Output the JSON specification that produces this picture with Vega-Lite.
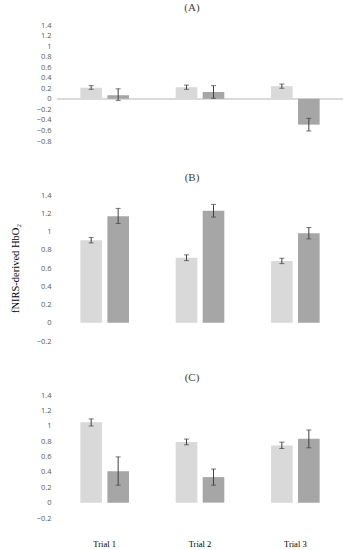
{
  "$schema": "https://vega.github.io/schema/vega-lite/v6.json",
  "padding": {"left": 10, "top": 2, "right": 0, "bottom": 0},
  "background": "white",
  "config": {
    "view": {"stroke": null},
    "title": {"font": "Liberation Serif", "fontSize": 11, "fontWeight": "normal", "color": "#404040", "offset": 8},
    "axisY": {"domain": false, "ticks": false, "grid": false, "labelFont": "Open Sans", "labelFontSize": 7.5, "labelColor": "#595959", "labelPadding": 6, "labelOverlap": false, "tickCount": 20, "format": "~g"},
    "concat": {"spacing": 27}
  },
  "data": {"values": [
    {"panel": "A", "trial": "Trial 1", "group": "Condition 1", "value": 0.21, "lo": 0.18, "hi": 0.25},
    {"panel": "A", "trial": "Trial 1", "group": "Condition 2", "value": 0.07, "lo": -0.03, "hi": 0.19},
    {"panel": "A", "trial": "Trial 2", "group": "Condition 1", "value": 0.22, "lo": 0.18, "hi": 0.26},
    {"panel": "A", "trial": "Trial 2", "group": "Condition 2", "value": 0.13, "lo": 0.01, "hi": 0.25},
    {"panel": "A", "trial": "Trial 3", "group": "Condition 1", "value": 0.24, "lo": 0.2, "hi": 0.28},
    {"panel": "A", "trial": "Trial 3", "group": "Condition 2", "value": -0.49, "lo": -0.61, "hi": -0.37},
    {"panel": "B", "trial": "Trial 1", "group": "Condition 1", "value": 0.905, "lo": 0.875, "hi": 0.935},
    {"panel": "B", "trial": "Trial 1", "group": "Condition 2", "value": 1.168, "lo": 1.088, "hi": 1.253},
    {"panel": "B", "trial": "Trial 2", "group": "Condition 1", "value": 0.711, "lo": 0.681, "hi": 0.744},
    {"panel": "B", "trial": "Trial 2", "group": "Condition 2", "value": 1.227, "lo": 1.158, "hi": 1.297},
    {"panel": "B", "trial": "Trial 3", "group": "Condition 1", "value": 0.678, "lo": 0.648, "hi": 0.707},
    {"panel": "B", "trial": "Trial 3", "group": "Condition 2", "value": 0.982, "lo": 0.919, "hi": 1.044},
    {"panel": "C", "trial": "Trial 1", "group": "Condition 1", "value": 1.045, "lo": 0.997, "hi": 1.089},
    {"panel": "C", "trial": "Trial 1", "group": "Condition 2", "value": 0.407, "lo": 0.227, "hi": 0.595},
    {"panel": "C", "trial": "Trial 2", "group": "Condition 1", "value": 0.787, "lo": 0.752, "hi": 0.827},
    {"panel": "C", "trial": "Trial 2", "group": "Condition 2", "value": 0.332, "lo": 0.227, "hi": 0.437},
    {"panel": "C", "trial": "Trial 3", "group": "Condition 1", "value": 0.744, "lo": 0.704, "hi": 0.787},
    {"panel": "C", "trial": "Trial 3", "group": "Condition 2", "value": 0.831, "lo": 0.713, "hi": 0.945}
  ]},
  "vconcat": [
    {
      "title": {"text": "(A)", "dx": -8},
      "width": 286, "height": 116,
      "transform": [{"filter": "datum.panel === 'A'"}],
      "encoding": {
        "x": {"field": "trial", "type": "nominal", "axis": null, "scale": {"paddingInner": 0, "paddingOuter": 0}},
        "xOffset": {"field": "group", "type": "nominal", "scale": {"paddingInner": 0.2, "paddingOuter": 0.865}}
      },
      "layer": [
        {"mark": {"type": "rule", "color": "#d9d9d9", "strokeWidth": 1}, "encoding": {"x": null, "xOffset": null, "y": {"datum": 0, "type": "quantitative"}}},
        {"mark": {"type": "bar", "strokeWidth": 0}, "encoding": {
          "y": {"field": "value", "type": "quantitative", "title": null, "scale": {"domain": [-0.8, 1.4], "nice": false}, "axis": {"values": [1.4, 1.2, 1, 0.8, 0.6, 0.4, 0.2, 0, -0.2, -0.4, -0.6, -0.8], "tickCount": 20, "labelOverlap": false}},
          "color": {"field": "group", "type": "nominal", "legend": null, "scale": {"range": ["#d9d9d9", "#a6a6a6"]}}
        }},
        {"mark": {"type": "rule", "color": "#404040", "strokeWidth": 1}, "encoding": {"y": {"field": "lo", "type": "quantitative"}, "y2": {"field": "hi"}}},
        {"mark": {"type": "tick", "color": "#404040", "size": 5, "thickness": 1}, "encoding": {"y": {"field": "lo", "type": "quantitative"}}},
        {"mark": {"type": "tick", "color": "#404040", "size": 5, "thickness": 1}, "encoding": {"y": {"field": "hi", "type": "quantitative"}}}
      ]
    },
    {
      "title": {"text": "(B)", "dx": -8},
      "width": 286, "height": 146,
      "transform": [{"filter": "datum.panel === 'B'"}],
      "encoding": {
        "x": {"field": "trial", "type": "nominal", "axis": null, "scale": {"paddingInner": 0, "paddingOuter": 0}},
        "xOffset": {"field": "group", "type": "nominal", "scale": {"paddingInner": 0.2, "paddingOuter": 0.865}}
      },
      "layer": [
        {"mark": {"type": "bar", "strokeWidth": 0}, "encoding": {
          "y": {"field": "value", "type": "quantitative", "title": "fNIRS-derived HbO₂", "scale": {"domain": [-0.2, 1.4], "nice": false}, "axis": {"values": [1.4, 1.2, 1, 0.8, 0.6, 0.4, 0.2, 0, -0.2], "tickCount": 20, "labelOverlap": false, "titleFont": "Liberation Serif", "titleFontSize": 10.5, "titleFontWeight": "normal", "titleColor": "#000000", "titlePadding": 16}},
          "color": {"field": "group", "type": "nominal", "legend": null, "scale": {"range": ["#d9d9d9", "#a6a6a6"]}}
        }},
        {"mark": {"type": "rule", "color": "#404040", "strokeWidth": 1}, "encoding": {"y": {"field": "lo", "type": "quantitative"}, "y2": {"field": "hi"}}},
        {"mark": {"type": "tick", "color": "#404040", "size": 5, "thickness": 1}, "encoding": {"y": {"field": "lo", "type": "quantitative"}}},
        {"mark": {"type": "tick", "color": "#404040", "size": 5, "thickness": 1}, "encoding": {"y": {"field": "hi", "type": "quantitative"}}}
      ]
    },
    {
      "title": {"text": "(C)", "dx": -8},
      "width": 286, "height": 123,
      "transform": [{"filter": "datum.panel === 'C'"}],
      "encoding": {
        "x": {"field": "trial", "type": "nominal", "title": null, "scale": {"paddingInner": 0, "paddingOuter": 0}, "axis": {"domain": false, "ticks": false, "labelAngle": 0, "labelFont": "Liberation Serif", "labelFontSize": 8.5, "labelColor": "#000000", "labelPadding": 21}},
        "xOffset": {"field": "group", "type": "nominal", "scale": {"paddingInner": 0.2, "paddingOuter": 0.865}}
      },
      "layer": [
        {"mark": {"type": "bar", "strokeWidth": 0}, "encoding": {
          "y": {"field": "value", "type": "quantitative", "title": null, "scale": {"domain": [-0.2, 1.4], "nice": false}, "axis": {"values": [1.4, 1.2, 1, 0.8, 0.6, 0.4, 0.2, 0, -0.2], "tickCount": 20, "labelOverlap": false}},
          "color": {"field": "group", "type": "nominal", "legend": null, "scale": {"range": ["#d9d9d9", "#a6a6a6"]}}
        }},
        {"mark": {"type": "rule", "color": "#404040", "strokeWidth": 1}, "encoding": {"y": {"field": "lo", "type": "quantitative"}, "y2": {"field": "hi"}}},
        {"mark": {"type": "tick", "color": "#404040", "size": 5, "thickness": 1}, "encoding": {"y": {"field": "lo", "type": "quantitative"}}},
        {"mark": {"type": "tick", "color": "#404040", "size": 5, "thickness": 1}, "encoding": {"y": {"field": "hi", "type": "quantitative"}}}
      ]
    }
  ]
}
